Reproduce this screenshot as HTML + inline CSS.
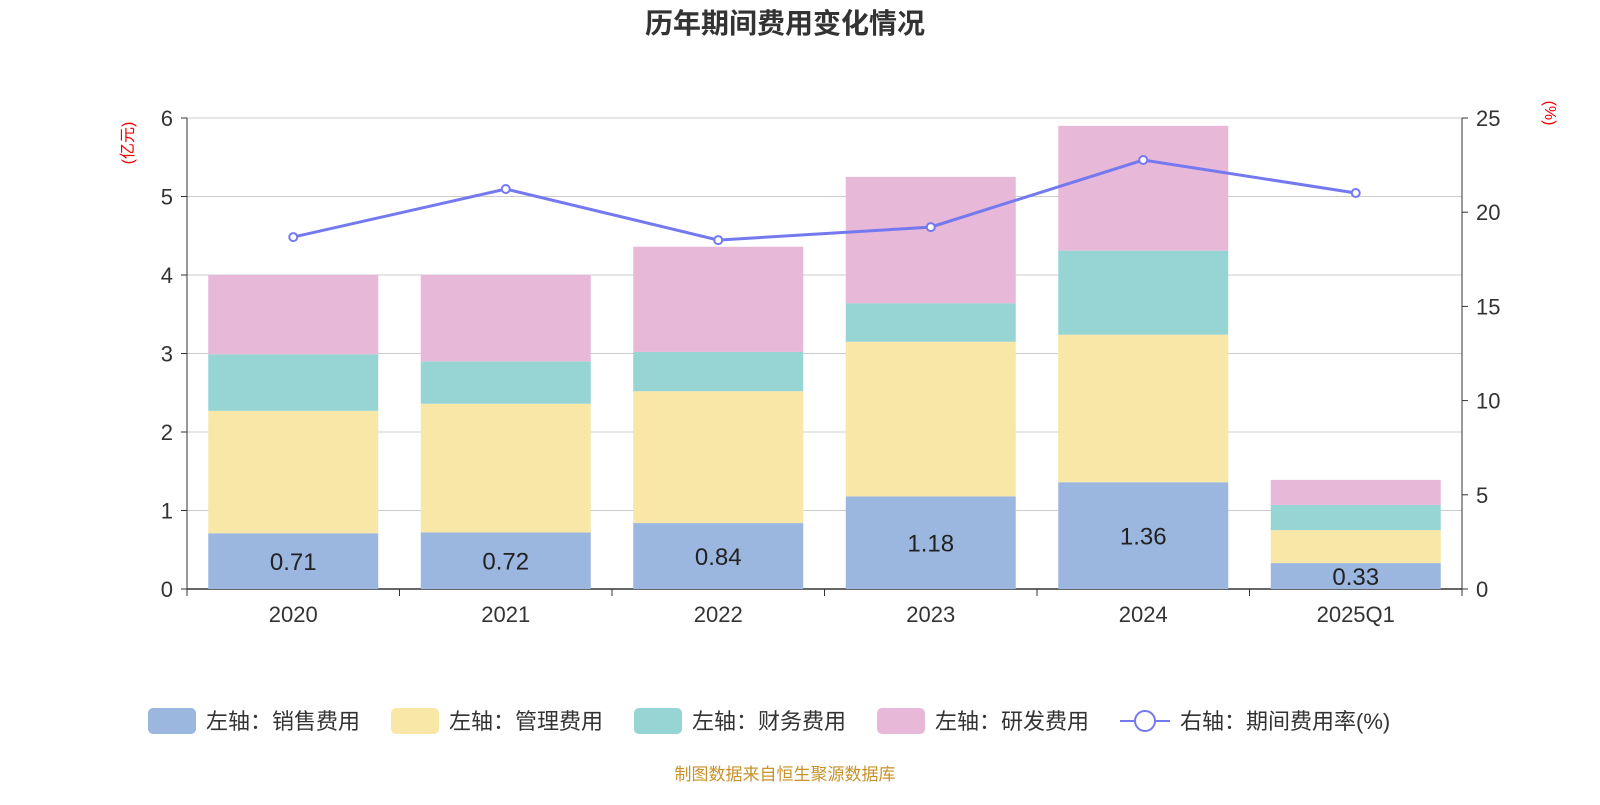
<!DOCTYPE html>
<html><head><meta charset="utf-8">
<style>
html,body{margin:0;padding:0;background:#fff;}
body{width:1600px;height:800px;overflow:hidden;font-family:"Liberation Sans","Noto Sans CJK SC",sans-serif;}
</style></head>
<body>
<svg id="chart" width="1600" height="800" xmlns="http://www.w3.org/2000/svg" font-family="Liberation Sans, Noto Sans CJK SC, sans-serif">
<text x="785" y="33" text-anchor="middle" font-size="28" font-weight="bold" fill="#333">历年期间费用变化情况</text>
<text transform="translate(133,143) rotate(-90)" text-anchor="middle" font-size="16" fill="#e00">(亿元)</text>
<text transform="translate(1545,113) rotate(90)" text-anchor="middle" font-size="16" fill="#e00">(%)</text>
<g id="grid"></g><g id="bars"></g><g id="axes"></g><g id="line"></g>
<g font-size="22" fill="#333">
<g><rect x="148" y="708" width="48" height="26" rx="5" fill="#9bb7e0"/><text x="206" y="729">左轴：销售费用</text></g>
<g><rect x="391" y="708" width="48" height="26" rx="5" fill="#f8e7a7"/><text x="449" y="729">左轴：管理费用</text></g>
<g><rect x="634" y="708" width="48" height="26" rx="5" fill="#97d4d4"/><text x="692" y="729">左轴：财务费用</text></g>
<g><rect x="877" y="708" width="48" height="26" rx="5" fill="#e7b8d8"/><text x="935" y="729">左轴：研发费用</text></g>
<g><line x1="1120" y1="721" x2="1170" y2="721" stroke="#7479f0" stroke-width="2"/><circle cx="1145" cy="721" r="10" fill="#fff" stroke="#7479f0" stroke-width="2"/><text x="1180" y="729">右轴：期间费用率(%)</text></g>
</g>
<text x="785" y="780" text-anchor="middle" font-size="17" fill="#c8922a">制图数据来自恒生聚源数据库</text>
</svg>
<script>
const categories=["2020","2021","2022","2023","2024","2025Q1"];
const sales=[0.71,0.72,0.84,1.18,1.36,0.33];
const admin=[1.56,1.64,1.68,1.97,1.88,0.42];
const finance=[0.72,0.54,0.50,0.49,1.07,0.32];
const rd=[1.01,1.10,1.34,1.61,1.59,0.32];
const rate=[18.68,21.23,18.52,19.21,22.77,21.02];
const leftTicks=[0,1,2,3,4,5,6];
const rightTicks=[0,5,10,15,20,25];
const NS="http://www.w3.org/2000/svg";
const X0=187,X1=1462,Y0=589,Y1=118;
const bw=(X1-X0)/categories.length;
const yl=v=>Y0-(v/6)*(Y0-Y1);
const yr=v=>Y0-(v/25)*(Y0-Y1);
const xc=i=>X0+bw*(i+0.5);
function mk(t,a,p){const e=document.createElementNS(NS,t);for(const k in a)e.setAttribute(k,a[k]);document.getElementById(p).appendChild(e);return e;}
leftTicks.forEach(v=>{
  const g=mk('line',{x1:X0,x2:X1,y1:yl(v),y2:yl(v),stroke:v===0?'#333':'#ccc','stroke-width':v===0?1.5:1},'grid');
  
  
  const t=mk('text',{x:X0-14,y:yl(v)+8,'text-anchor':'end','font-size':22,fill:'#333'},'axes');t.textContent=v;
  
  
  mk('line',{x1:X0-6,x2:X0,y1:yl(v),y2:yl(v),stroke:'#333'},'axes');
});
rightTicks.forEach(v=>{
  const t=mk('text',{x:X1+14,y:yr(v)+8,'font-size':22,fill:'#333'},'axes');t.textContent=v;
  
  
  mk('line',{x1:X1,x2:X1+6,y1:yr(v),y2:yr(v),stroke:'#333'},'axes');
});
mk('line',{x1:X0,x2:X0,y1:Y1,y2:Y0+6,stroke:'#333'},'axes');
mk('line',{x1:X1,x2:X1,y1:Y1,y2:Y0+6,stroke:'#333'},'axes');
for(let i=0;i<=categories.length;i++)mk('line',{x1:X0+bw*i,x2:X0+bw*i,y1:Y0,y2:Y0+7,stroke:'#333'},'axes');
const series=[[sales,'#9bb7e0','bar-sales'],[admin,'#f8e7a7','bar-admin'],[finance,'#97d4d4','bar-finance'],[rd,'#e7b8d8','bar-rd']];
categories.forEach((c,i)=>{
  let base=0;
  series.forEach(([arr,col,nm])=>{
    const top=base+arr[i];
    const r=mk('rect',{x:xc(i)-85,width:170,y:yl(top),height:yl(base)-yl(top),fill:col},'bars');
    
    
    base=top;
  });
  const lb=mk('text',{x:xc(i),y:(yl(sales[i])+Y0)/2+9,'text-anchor':'middle','font-size':24,fill:'#222'},'bars');lb.textContent=sales[i].toFixed(2);
  
  
  const t=mk('text',{x:xc(i),y:Y0+33,'text-anchor':'middle','font-size':22,fill:'#333'},'axes');t.textContent=c;
  
  
});
const pl=mk('polyline',{points:rate.map((v,i)=>xc(i)+','+yr(v)).join(' '),fill:'none',stroke:'#7479f0','stroke-width':3},'line');


rate.forEach((v,i)=>{
  const c=mk('circle',{cx:xc(i),cy:yr(v),r:4,fill:'#fff',stroke:'#7479f0','stroke-width':2},'line');
  
  
});
</script>
</body></html>
